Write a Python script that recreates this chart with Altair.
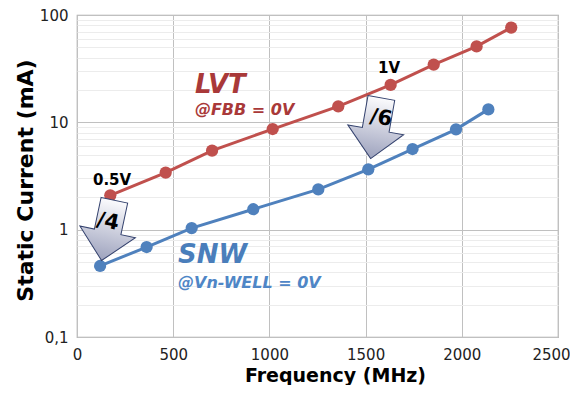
import altair as alt
import pandas as pd

# ---- data ----
lvt_freq = [173, 461, 702, 1017, 1358, 1630, 1854, 2077, 2257]
lvt_current = [2.09, 3.4, 5.45, 8.66, 14.1, 22.3, 34.5, 51, 76.4]
snw_freq = [120, 362, 596, 916, 1254, 1514, 1744, 1970, 2138]
snw_current = [0.459, 0.689, 1.035, 1.55, 2.37, 3.65, 5.64, 8.6, 13.2]

x_ticks = [0, 500, 1000, 1500, 2000, 2500]
y_major = [0.1, 1, 10, 100]
y_major_labels = ["0,1", "1", "10", "100"]
y_minor = [m * d for d in [0.1, 1, 10] for m in range(2, 10)]

# annotation labels (text, freq, current)
series_labels = ["LVT", "@FBB = 0V", "SNW", "@Vn-WELL = 0V"]
series_label_freq = [613, 613, 525, 525]
series_label_current = [18.8, 11.6, 0.489, 0.288]
series_label_size = [26, 16, 26, 16]
series_label_color = ["#a93939", "#a93939", "#4a7ebb", "#4f86c6"]

volt_labels = ["0.5V", "1V"]
volt_freq = [83, 1565]
volt_current = [2.59, 28.8]

arrow_labels = ["/4", "/6"]
arrow_freq = [161, 1554]
arrow_current = [0.985, 8.8]
arrow_angle = [12, 10]
arrow_text_freq = [160, 1580]
arrow_text_current = [1.18, 10.9]

RED = "#c0504d"
BLUE = "#4f81bd"

series_df = pd.DataFrame({
    "freq": lvt_freq + snw_freq,
    "current": lvt_current + snw_current,
    "series": ["LVT"] * len(lvt_freq) + ["SNW"] * len(snw_freq),
})

y_values = sorted(y_major + y_minor)
major_test = " || ".join(f"datum.value == {v}" for v in y_major)
label_expr = " : ".join(f"datum.value == {v} ? '{l}'" for v, l in zip(y_major, y_major_labels)) + " : ''"

x_scale = alt.Scale(domain=[0, 2500], nice=False)
y_scale = alt.Scale(type="log", domain=[0.1, 100], nice=False)

x_axis = alt.Axis(
    values=x_ticks, format="d", title="Frequency (MHz)", grid=True, gridColor="#c0c0c0",
    ticks=False, domain=False, labelFlush=False, labelPadding=10,
    labelOffset={"condition": {"test": f"datum.value == {x_ticks[-1]}", "value": -7}, "value": 0},
    labelFont="DejaVu Sans", labelFontSize=15, labelColor="#222",
    titleFont="DejaVu Sans", titleFontSize=19, titleFontWeight="bold", titleColor="#000",
    titleX=258, titleY=44, titleBaseline="alphabetic", titleAnchor=None,
)
y_axis = alt.Axis(
    values=y_values, title="Static Current (mA)", grid=True,
    gridColor={"condition": {"test": major_test, "value": "#c0c0c0"}, "value": "#ececec"},
    ticks=False, domain=False, labelFlush=False, labelOverlap=False, labelPadding=9,
    labelExpr=label_expr,
    labelFont="DejaVu Sans", labelFontSize=15, labelColor="#222",
    titleFont="DejaVu Sans", titleFontSize=22, titleFontWeight="bold", titleColor="#000",
    titleX=-52, titleY=165, titleAngle=270, titleAlign="center", titleBaseline="middle",
)

color_scale = alt.Scale(domain=["LVT", "SNW"], range=[RED, BLUE])

base = alt.Chart(series_df).encode(
    x=alt.X("freq:Q", scale=x_scale, axis=x_axis),
    y=alt.Y("current:Q", scale=y_scale, axis=y_axis),
    color=alt.Color("series:N", scale=color_scale, legend=None),
    detail="series:N",
)
lines = base.mark_line(strokeWidth=3)
points = base.mark_point(filled=True, size=150, opacity=1, shape="circle")

lab_df = pd.DataFrame({
    "text": series_labels, "freq": series_label_freq, "current": series_label_current,
    "size": series_label_size, "color": series_label_color,
})
series_text = alt.Chart(lab_df).mark_text(
    font="DejaVu Sans", fontWeight="bold", fontStyle="italic", align="left", baseline="alphabetic"
).encode(
    x=alt.X("freq:Q", scale=x_scale),
    y=alt.Y("current:Q", scale=y_scale),
    text="text:N",
    size=alt.Size("size:Q", scale=None),
    color=alt.Color("color:N", scale=None),
)

volt_df = pd.DataFrame({"text": volt_labels, "freq": volt_freq, "current": volt_current})
volt_text = alt.Chart(volt_df).mark_text(
    font="DejaVu Sans", fontWeight="bold", fontSize=15, color="#000", align="left", baseline="alphabetic"
).encode(
    x=alt.X("freq:Q", scale=x_scale),
    y=alt.Y("current:Q", scale=y_scale),
    text="text:N",
)

arrow_path = "M-0.44,-1 L0.44,-1 L0.44,0.05 L0.92,0.05 L0,1 L-0.92,0.05 L-0.44,0.05 Z"
arrow_df = pd.DataFrame({"freq": arrow_freq, "current": arrow_current, "angle": arrow_angle})
arrows = alt.Chart(arrow_df).mark_point(
    shape=arrow_path, size=3800, filled=True, opacity=1,
    fill=alt.Gradient(
        gradient="linear",
        stops=[alt.GradientStop(color="#fbfbfd", offset=0), alt.GradientStop(color="#9da2bd", offset=1)],
        x1=0, y1=0, x2=0, y2=1,
    ),
    stroke="#34426e", strokeWidth=1,
).encode(
    x=alt.X("freq:Q", scale=x_scale),
    y=alt.Y("current:Q", scale=y_scale),
    angle=alt.Angle("angle:Q", scale=None),
)

arrow_text_df = pd.DataFrame({
    "text": arrow_labels, "freq": arrow_text_freq, "current": arrow_text_current, "angle": arrow_angle,
})
arrow_text = alt.Chart(arrow_text_df).mark_text(
    font="DejaVu Sans", fontWeight="bold", fontSize=21, color="#000", align="center", baseline="middle"
).encode(
    x=alt.X("freq:Q", scale=x_scale),
    y=alt.Y("current:Q", scale=y_scale),
    text="text:N",
    angle=alt.Angle("angle:Q", scale=None),
)

chart = alt.layer(lines, points, series_text, volt_text, arrows, arrow_text).properties(
    width=481, height=322,
    autosize=alt.AutoSizeParams(type="none"),
    padding={"left": 69, "top": 7, "right": 12, "bottom": 48},
    background="white",
).configure_view(stroke="#a6a6a6", strokeWidth=1.2)

chart.save("out.html", embed_options={"renderer": "svg", "actions": False})
